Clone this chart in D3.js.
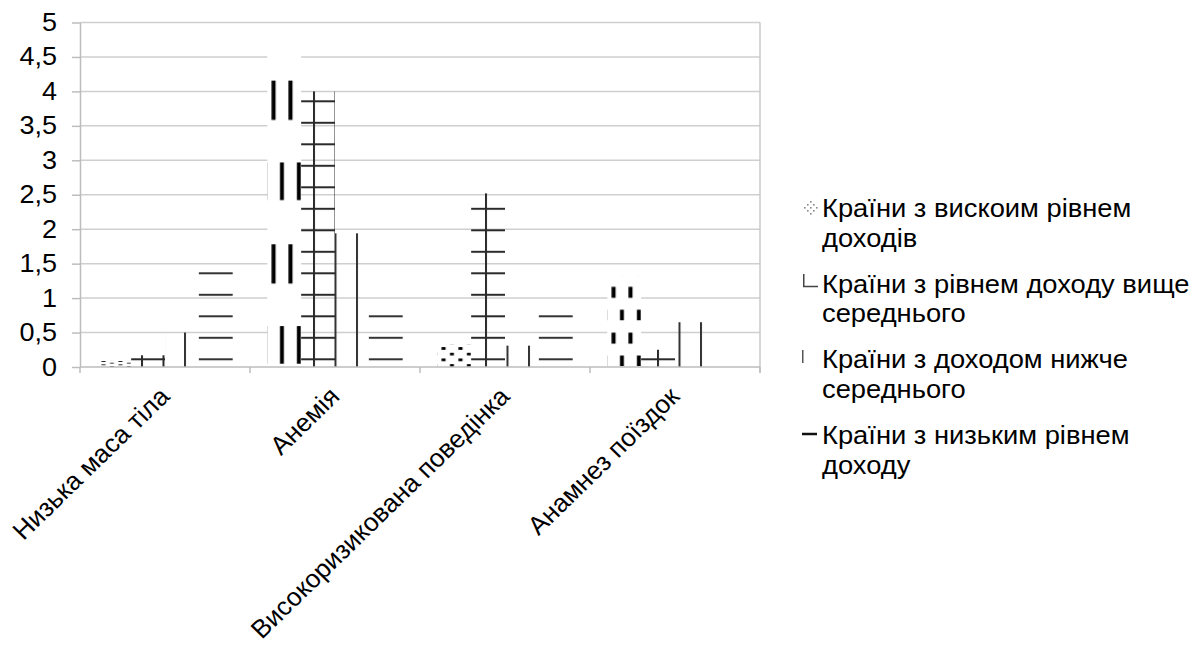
<!DOCTYPE html>
<html>
<head>
<meta charset="utf-8">
<script src="https://cdn.jsdelivr.net/npm/d3@7"></script>
<style>
  body { margin: 0; background: #fff; }
  text { font-family: "Liberation Sans", Arial, sans-serif; fill: #000; }
</style>
</head>
<body>
<svg id="chart" width="1195" height="650"></svg>
<script>
// Categories (risk factors) and the four income groups
const categories = ["Низька маса тіла", "Анемія", "Високоризикована поведінка", "Анамнез поїздок"];
const seriesNames = [
  "Країни з вискоим рівнем доходів",
  "Країни з рівнем доходу вище середнього",
  "Країни з доходом нижче середнього",
  "Країни з низьким рівнем доходу"
];
const highIncome        = [0.1, 4.75, 0.33, 1.33];
const upperMiddleIncome = [0.17, 4.0, 2.52, 0.25];
const lowerMiddleIncome = [0.5, 1.94, 0.31, 0.65];
const lowIncome         = [1.4, 0.8, 0.8, 0.05];
const yTicks = [0, 0.5, 1, 1.5, 2, 2.5, 3, 3.5, 4, 4.5, 5];
const legendLines = [
  ["Країни з вискоим рівнем", "доходів"],
  ["Країни з рівнем доходу вище", "середнього"],
  ["Країни з доходом нижче", "середнього"],
  ["Країни з низьким рівнем", "доходу"]
];

const seriesValues = [highIncome, upperMiddleIncome, lowerMiddleIncome, lowIncome];
const rows = [];
categories.forEach((c, ci) => seriesValues.forEach((vals, si) => rows.push({ cat: c, s: si, v: vals[ci] })));

const FONT = 25;        // axis text size
const SX = 1.08;        // slight horizontal widening of the lettering
const CAT_FONT = 25.5;  // category labels
const CAT_SX = 1.03;
const LEG_FONT = 25.3;

const svg = d3.select("#chart");
const plot = { left: 80, right: 760, top: 22.5, bottom: 367 };

const x0 = d3.scaleBand().domain(categories).range([plot.left, plot.right]);
const x1 = d3.scaleBand().domain(d3.range(seriesValues.length))
  .range([17.3, x0.bandwidth() - 17.3]);
const y = d3.scaleLinear().domain([0, 5]).range([plot.bottom, plot.top]);

// ---- fill patterns ----
const defs = svg.append("defs");
const period = 21.5;
const latticeX = plot.left + 82.5;      // left edge of vertical hatch lines
const latticeY = y(0) - 8.7;            // top edge of horizontal hatch lines

// grid hatch (upper-middle income)
const pGrid = defs.append("pattern").attr("id", "p-grid")
  .attr("patternUnits", "userSpaceOnUse")
  .attr("x", latticeX).attr("y", latticeY)
  .attr("width", period).attr("height", period);
pGrid.append("rect").attr("x", 0).attr("y", 0).attr("width", 2).attr("height", period).attr("fill", "#2a2a2a");
pGrid.append("rect").attr("x", 0).attr("y", 0).attr("width", period).attr("height", 2).attr("fill", "#2a2a2a");

// vertical hatch (lower-middle income)
const pVert = defs.append("pattern").attr("id", "p-vert")
  .attr("patternUnits", "userSpaceOnUse")
  .attr("x", latticeX).attr("y", 0)
  .attr("width", period).attr("height", period);
pVert.append("rect").attr("x", 0).attr("y", 0).attr("width", 2).attr("height", period).attr("fill", "#333");

// horizontal hatch (low income)
const pHorz = defs.append("pattern").attr("id", "p-horz")
  .attr("patternUnits", "userSpaceOnUse")
  .attr("x", 0).attr("y", latticeY)
  .attr("width", period).attr("height", period);
pHorz.append("rect").attr("x", 0).attr("y", 0).attr("width", period).attr("height", 2).attr("fill", "#333");

// stretched dash checker (high income), scaled to each bar
const pDash = defs.append("pattern").attr("id", "p-dash")
  .attr("patternUnits", "objectBoundingBox")
  .attr("patternContentUnits", "objectBoundingBox")
  .attr("width", 0.5).attr("height", 0.5);
pDash.append("rect").attr("x", 0.125).attr("y", 0.125).attr("width", 0.12).attr("height", 0.12).attr("fill", "#000");
pDash.append("rect").attr("x", 0.375).attr("y", 0.375).attr("width", 0.115).attr("height", 0.115).attr("fill", "#000");

const fills = ["url(#p-dash)", "url(#p-grid)", "url(#p-vert)", "url(#p-horz)"];

// ---- gridlines ----
svg.append("g").selectAll("line").data(yTicks.filter(d => d > 0)).join("line")
  .attr("x1", plot.left).attr("x2", plot.right)
  .attr("y1", d => y(d)).attr("y2", d => y(d))
  .attr("stroke", "#cfcfcf").attr("stroke-width", 1.5);

// right border of the plot area
svg.append("line")
  .attr("x1", plot.right).attr("x2", plot.right)
  .attr("y1", y(5)).attr("y2", y(0) + 6)
  .attr("stroke", "#c8c8c8").attr("stroke-width", 1.5);

// ---- bars ----
const barG = svg.append("g");
// the high-income bars sit on an opaque white ground
barG.selectAll("rect.ground").data(rows.filter(d => d.s === 0)).join("rect")
  .attr("class", "ground")
  .attr("x", d => x0(d.cat) + x1(d.s))
  .attr("width", x1.bandwidth())
  .attr("y", d => y(d.v))
  .attr("height", d => y(0) - y(d.v))
  .attr("fill", "#fff");
barG.selectAll("rect.bar").data(rows).join("rect")
  .attr("class", "bar")
  .attr("x", d => x0(d.cat) + x1(d.s))
  .attr("width", x1.bandwidth())
  .attr("y", d => y(d.v))
  .attr("height", d => y(0) - y(d.v))
  .attr("fill", d => fills[d.s]);

// ---- y axis ----
const yAxis = d3.axisLeft(y).tickValues(yTicks)
  .tickFormat(d => String(d).replace(".", ","))
  .tickSize(8).tickSizeOuter(0).tickPadding(13.3);
const gy = svg.append("g").attr("transform", `translate(${plot.left},0)`).call(yAxis);
gy.select(".domain").attr("stroke", "#bdbdbd").attr("stroke-width", 1.5);
gy.selectAll(".tick line").attr("stroke", "#bdbdbd").attr("stroke-width", 1.5);
gy.selectAll(".tick text").attr("font-size", FONT)
  .attr("font-family", "Liberation Sans, Arial, sans-serif")
  .attr("transform", `scale(${SX},1)`);

// ---- x axis ----
const gx = svg.append("g");
gx.append("line").attr("x1", plot.left).attr("x2", plot.right)
  .attr("y1", y(0)).attr("y2", y(0))
  .attr("stroke", "#bdbdbd").attr("stroke-width", 1.5);
const boundaries = categories.map(c => x0(c)).concat([plot.right]);
gx.selectAll("line.tick").data(boundaries).join("line").attr("class", "tick")
  .attr("x1", d => d).attr("x2", d => d)
  .attr("y1", y(0)).attr("y2", y(0) + 6)
  .attr("stroke", "#bdbdbd").attr("stroke-width", 1.5);
gx.selectAll("text").data(categories).join("text")
  .attr("transform", c => `translate(${x0(c) + x0.bandwidth() / 2 + 6},398) scale(${CAT_SX},1) rotate(-45)`)
  .attr("text-anchor", "end")
  .attr("font-size", CAT_FONT)
  .text(c => c);

// ---- legend ----
const legend = svg.append("g");
const entry = legend.selectAll("g.entry").data(legendLines).join("g")
  .attr("class", "entry")
  .attr("transform", (d, i) => `translate(822,${217 + i * 75.7})`);
entry.selectAll("text").data(d => d).join("text")
  .attr("transform", (d, i) => `translate(0,${i * 29.5}) scale(${SX},1)`)
  .attr("font-size", LEG_FONT)
  .text(d => d);

// legend swatches
const sw0 = legend.append("g").attr("transform", "translate(803,201)");
const dotPts = [[7,0],[4,3],[10,3],[1,6],[7,6],[13,6],[4,9],[10,9],[7,12]];
sw0.selectAll("rect").data(dotPts).join("rect")
  .attr("x", d => d[0]).attr("y", d => d[1]).attr("width", 1.6).attr("height", 1.6).attr("fill", "#888");

const sw1 = legend.append("g").attr("transform", "translate(803,274)");
sw1.append("path").attr("d", "M0.75,0 V12.5 H15").attr("fill", "none").attr("stroke", "#444").attr("stroke-width", 1.5);

const sw2 = legend.append("g").attr("transform", "translate(802,350)");
sw2.append("line").attr("x1", 0.75).attr("x2", 0.75).attr("y1", 0).attr("y2", 13).attr("stroke", "#555").attr("stroke-width", 1.5);

const sw3 = legend.append("g").attr("transform", "translate(802,434)");
sw3.append("line").attr("x1", 0).attr("x2", 15).attr("y1", 0).attr("y2", 0).attr("stroke", "#111").attr("stroke-width", 2.5);
</script>
</body>
</html>
